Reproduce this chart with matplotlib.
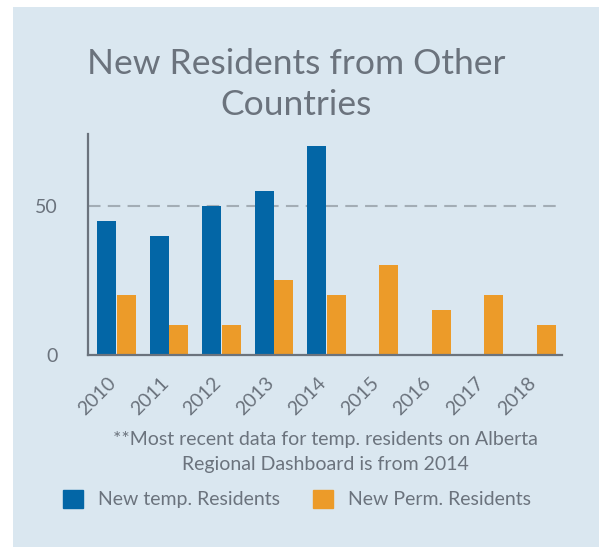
import matplotlib.pyplot as plt
import matplotlib.patches as mpatches
import numpy as np

plt.rcParams['font.family'] = ['Lato', 'DejaVu Sans']

# data
tahun = ['2010', '2011', '2012', '2013', '2014', '2015', '2016', '2017', '2018']
temp_residents = [45, 40, 50, 55, 70, 0, 0, 0, 0]
perm_residents = [20, 10, 10, 25, 20, 30, 15, 20, 10]

warna_biru = '#0366a6'
warna_oranye = '#ec9b29'
warna_bg = '#dae7f0'
warna_teks = '#6b737d'

W, H = 602, 547
fig = plt.figure(figsize=(W / 100, H / 100), dpi=100, facecolor='white')

# panel latar
fig.patches.append(mpatches.Rectangle((13 / W, 0), 586 / W, 1 - 7 / H,
                                      transform=fig.transFigure, facecolor=warna_bg,
                                      edgecolor='none', zorder=-10))

ax = fig.add_axes([88 / W, 1 - 355 / H, 474 / W, 221 / H])
ax.set_facecolor('none')

x = np.arange(len(tahun))
lebar = 0.362
ada_temp = [i for i, v in enumerate(temp_residents) if v > 0]
ax.bar(x[ada_temp] - 0.19, [temp_residents[i] for i in ada_temp], lebar,
       color=warna_biru, zorder=3)
ax.bar(x + 0.19, perm_residents, lebar, color=warna_oranye, zorder=3)

ax.set_xlim(-0.543, 8.486)
ax.set_ylim(0, 74)
ax.set_yticks([0, 50])
ax.axhline(50, color='#a3adb5', lw=1.5, dashes=(6, 3.5), zorder=1)

for s in ['top', 'right']:
    ax.spines[s].set_visible(False)
for s in ['left', 'bottom']:
    ax.spines[s].set_color(warna_teks)
    ax.spines[s].set_linewidth(1.6)
    ax.spines[s].set_zorder(4)

ax.tick_params(axis='y', length=0, pad=21.5, labelsize=14, labelcolor=warna_teks)
ax.tick_params(axis='x', length=0, pad=14, labelsize=14, labelcolor=warna_teks)
ax.set_xticks(x + 0.06)
ax.set_xticklabels(tahun, rotation=45, ha='right', va='top')

# judul
fig.text(296 / W, 1 - 48 / H, 'New Residents from Other\nCountries', ha='center',
         va='top', fontsize=25.5, color=warna_teks, linespacing=1.33)

# catatan
fig.text(325 / W, 1 - 431 / H,
         '**Most recent data for temp. residents on Alberta\nRegional Dashboard is from 2014',
         ha='center', va='top', fontsize=14, color=warna_teks, linespacing=1.55)

# legenda
handles = [mpatches.Patch(color=warna_biru, label='New temp. Residents'),
           mpatches.Patch(color=warna_oranye, label='New Perm. Residents')]
fig.legend(handles=handles, loc='center left', bbox_to_anchor=(63 / W, 1 - 499 / H),
           ncol=2, frameon=False, fontsize=14, labelcolor=warna_teks,
           handlelength=1.03, handleheight=1.03, handletextpad=0.77,
           columnspacing=1.7, borderpad=0, borderaxespad=0)

fig.savefig('out.png', dpi=100, facecolor='white')
